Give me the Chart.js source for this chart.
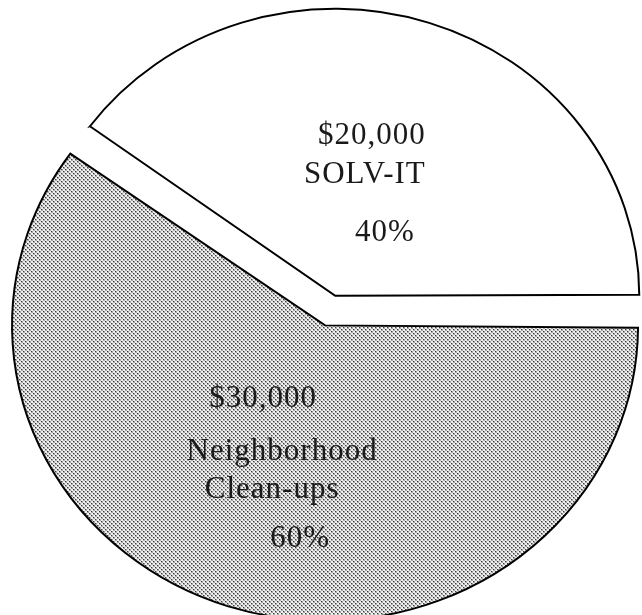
<!DOCTYPE html>
<html>
<head>
<meta charset="utf-8">
<script src="https://cdn.jsdelivr.net/npm/chart.js@4/dist/chart.umd.min.js"></script>
<style>
  html, body { margin: 0; padding: 0; background: #fff; overflow: hidden; }
  body { width: 642px; height: 615px; position: relative; }
  #pie { position: absolute; left: -20px; top: -39px; }
</style>
</head>
<body>
<canvas id="pie" width="700" height="700"></canvas>
<script>
// data
const sliceNames = [["Neighborhood", "Clean-ups"], ["SOLV-IT"]];
const amounts = [30000, 20000];
const sliceFills = ["dots", "#ffffff"];

// the scan is a little flatter than it is wide
const SQUASH = 0.944;

// per-line nudges from the slice's mid point (the original text is not centred)
const lineNudges = [
  [[-21, -37], [-2, 16], [-12, 54], [16, 103]],
  [[-4, -34], [-11, 5], [9, 63]]
];

const canvas = document.getElementById("pie");
const ctx = canvas.getContext("2d");

// dotted screen for the grey slice
function makeDots() {
  const tile = document.createElement("canvas");
  tile.width = 4;
  tile.height = 4;
  const t = tile.getContext("2d");
  t.fillStyle = "#f1f1f1";
  t.fillRect(0, 0, 4, 4);
  t.fillStyle = "#a6a6a6";
  t.fillRect(0, 0, 2, 2);
  t.fillRect(2, 2, 2, 2);
  t.fillStyle = "#303030";
  t.fillRect(0, 0, 1, 1);
  t.fillRect(2, 2, 1, 1);
  const pat = ctx.createPattern(tile, "repeat");
  // undo the squash so the dots stay square on screen
  pat.setTransform(new DOMMatrix().scale(1, 1 / SQUASH));
  return pat;
}
const dots = makeDots();

const total = amounts.reduce((a, b) => a + b, 0);
const labelLines = amounts.map((v, i) => [
  "$" + v.toLocaleString("en-US"),
  ...sliceNames[i],
  Math.round((v / total) * 100) + "%"
]);

const squashAndLabel = {
  id: "squashAndLabel",
  beforeDatasetsDraw(chart) {
    const { ctx, chartArea } = chart;
    const cx = (chartArea.left + chartArea.right) / 2;
    const cy = (chartArea.top + chartArea.bottom) / 2;
    ctx.save();
    ctx.translate(cx, cy);
    ctx.scale(1, SQUASH);
    ctx.translate(-cx, -cy);
  },
  afterDatasetsDraw(chart) {
    const { ctx, chartArea } = chart;
    ctx.restore();
    const cy = (chartArea.top + chartArea.bottom) / 2;
    ctx.save();
    ctx.font = "31px 'Liberation Serif', 'Times New Roman', serif";
    ctx.fillStyle = "#1a1a1a";
    ctx.textAlign = "center";
    ctx.textBaseline = "alphabetic";
    ctx.letterSpacing = "1px";
    chart.getDatasetMeta(0).data.forEach((arc, i) => {
      // half way out along the slice's middle angle, from the pie centre
      const mid = (arc.startAngle + arc.endAngle) / 2;
      const r = arc.outerRadius / 2;
      const px = arc.x + Math.cos(mid) * r;
      const py = cy + (arc.y + Math.sin(mid) * r - cy) * SQUASH;
      labelLines[i].forEach((line, j) => {
        const [dx, dy] = lineNudges[i][j];
        ctx.fillText(line, px + dx, py + dy);
      });
    });
    ctx.restore();
  }
};

new Chart(ctx, {
  type: "pie",
  data: {
    labels: sliceNames.map((n) => n.join(" ")),
    datasets: [{
      data: amounts,
      backgroundColor: sliceFills.map((f) => (f === "dots" ? dots : f)),
      borderColor: "#000",
      borderWidth: 2,
      borderJoinStyle: "miter",
      offset: [64, 68],
      hoverOffset: 0
    }]
  },
  options: {
    responsive: false,
    animation: false,
    rotation: 90,
    radius: 297,
    layout: { padding: 0 },
    events: [],
    plugins: {
      legend: { display: false },
      tooltip: { enabled: false },
      title: { display: false }
    }
  },
  plugins: [squashAndLabel]
});
</script>
</body>
</html>
